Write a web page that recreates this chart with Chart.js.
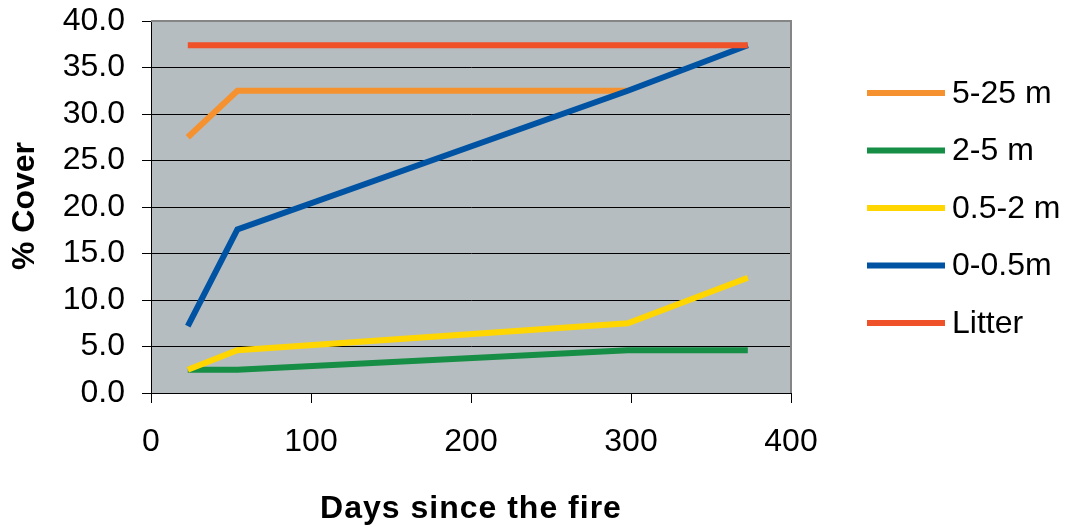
<!DOCTYPE html>
<html>
<head>
<meta charset="utf-8">
<style>
  html, body { margin: 0; padding: 0; background: #ffffff; }
  #wrap { width: 1074px; height: 527px; }
</style>
<script src="https://cdn.jsdelivr.net/npm/chart.js@4"></script>
</head>
<body>
<div id="wrap"><canvas id="c" width="1074" height="527"></canvas></div>
<script>
// ---- data ----
const days = [23, 54, 298, 373];
const seriesNames = ["5-25 m", "2-5 m", "0.5-2 m", "0-0.5m", "Litter"];
const cover525 = [27.5, 32.5, 32.5, null];
const cover25 = [2.5, 2.5, 4.6, 4.6];
const cover052 = [2.5, 4.6, 7.5, 12.4];
const cover005 = [7.2, 17.6, 32.5, 37.4];
const coverLitter = [37.4, 37.4, 37.4, 37.4];
const seriesColors = ["#F5922F", "#178E45", "#FFD600", "#0053A3", "#EF5129"];
const xTicks = [0, 100, 200, 300, 400];
const yTicks = [0, 5, 10, 15, 20, 25, 30, 35, 40];

const allSeries = [cover525, cover25, cover052, cover005, coverLitter];
const FONT = "'Liberation Sans', Arial, sans-serif";

function toPoints(vals) {
  const pts = [];
  vals.forEach((v, i) => { if (v !== null) pts.push({ x: days[i], y: v }); });
  return pts;
}

const datasets = allSeries.map((vals, i) => ({
  label: seriesNames[i],
  data: toPoints(vals),
  borderColor: seriesColors[i],
  backgroundColor: seriesColors[i],
  borderWidth: 6,
  borderCapStyle: 'butt',
  borderJoinStyle: 'miter',
  showLine: true,
  tension: 0,
  pointRadius: 0,
  pointHoverRadius: 0,
  order: allSeries.length - 1 - i
}));

const decor = {
  id: 'decor',
  beforeDraw(chart) {
    const { ctx, chartArea: a } = chart;
    ctx.save();
    ctx.fillStyle = '#B6BDC0';
    ctx.fillRect(a.left, a.top, a.right - a.left, a.bottom - a.top);
    ctx.restore();
  },
  afterDatasetsDraw(chart) {
    const { ctx, chartArea: a } = chart;
    ctx.save();
    ctx.strokeStyle = '#858585';
    ctx.lineWidth = 2;
    ctx.beginPath();
    ctx.moveTo(a.left, a.top);
    ctx.lineTo(a.right, a.top);
    ctx.lineTo(a.right, a.bottom);
    ctx.stroke();
    ctx.restore();
  },
  afterDraw(chart) {
    const { ctx, chartArea: a } = chart;
    ctx.save();
    ctx.fillStyle = '#000';
    // y title
    ctx.font = "bold 32px " + FONT;
    ctx.textAlign = 'center';
    ctx.textBaseline = 'middle';
    ctx.save();
    ctx.translate(25, 206);
    ctx.rotate(-Math.PI / 2);
    ctx.fillText('% Cover', 0, 0);
    ctx.restore();
    // x title
    ctx.textBaseline = 'alphabetic';
    try { ctx.letterSpacing = '1px'; } catch (e) {}
    ctx.fillText('Days since the fire', 471, 518);
    try { ctx.letterSpacing = '0px'; } catch (e) {}
    // legend
    const rows = [93, 150.5, 208, 265.5, 323];
    ctx.font = "32px " + FONT;
    ctx.textAlign = 'left';
    ctx.textBaseline = 'middle';
    chart.data.datasets.forEach((ds, i) => {
      ctx.strokeStyle = ds.borderColor;
      ctx.lineWidth = 6;
      ctx.beginPath();
      ctx.moveTo(867, rows[i]);
      ctx.lineTo(945, rows[i]);
      ctx.stroke();
      ctx.fillStyle = '#000';
      ctx.fillText(ds.label, 952, rows[i] + 1);
    });
    ctx.restore();
  }
};

new Chart(document.getElementById('c'), {
  type: 'scatter',
  data: { datasets },
  plugins: [decor],
  options: {
    responsive: false,
    animation: false,
    devicePixelRatio: 1,
    layout: { padding: { left: 0, top: 21, right: 283, bottom: 0 } },
    plugins: { legend: { display: false }, tooltip: { enabled: false } },
    scales: {
      x: {
        type: 'linear',
        min: xTicks[0],
        max: xTicks[xTicks.length - 1],
        afterBuildTicks(scale) { scale.ticks = xTicks.map(v => ({ value: v })); },
        afterFit(scale) { scale.height = 134; scale.paddingLeft = 0; scale.paddingRight = 0; },
        ticks: { color: '#000', font: { family: FONT, size: 32 }, padding: 20, maxRotation: 0 },
        grid: { drawOnChartArea: false, drawTicks: true, tickLength: 10, color: '#000', lineWidth: 1 },
        border: { display: true, color: '#000', width: 1 }
      },
      y: {
        type: 'linear',
        min: yTicks[0],
        max: yTicks[yTicks.length - 1],
        afterBuildTicks(scale) { scale.ticks = yTicks.map(v => ({ value: v })); },
        afterFit(scale) { scale.width = 151; scale.paddingTop = 0; scale.paddingBottom = 0; },
        ticks: { color: '#000', font: { family: FONT, size: 32 }, padding: 17, callback: v => Number(v).toFixed(1) },
        grid: { drawTicks: true, tickLength: 9, color: '#000', lineWidth: 1 },
        border: { display: true, color: '#000', width: 1 }
      }
    }
  }
});
</script>
</body>
</html>
